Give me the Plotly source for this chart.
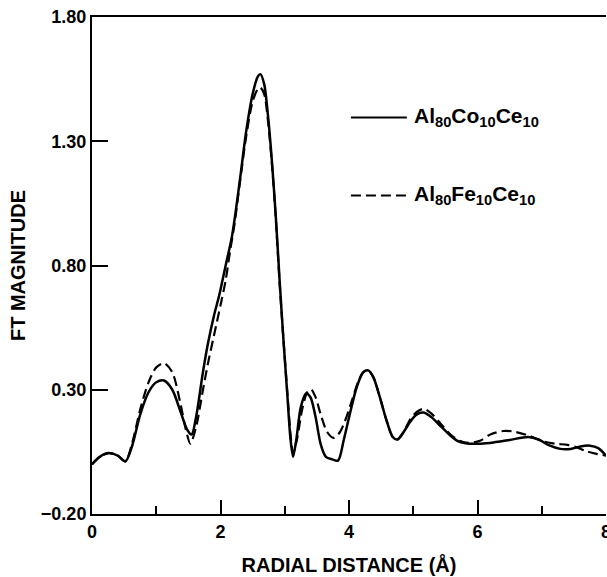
import plotly.graph_objects as go

# Radial distance (Å) and FT magnitude
x_co = [0.00, 0.12, 0.26, 0.40, 0.52, 0.62, 0.75, 0.88, 1.00, 1.12, 1.25, 1.38, 1.48, 1.55,
        1.62, 1.72, 1.80, 1.90, 1.98, 2.08, 2.18, 2.30, 2.40, 2.50, 2.58, 2.62, 2.68, 2.74,
        2.80, 2.86, 2.92, 2.98, 3.04, 3.09, 3.13, 3.18, 3.25, 3.33, 3.40, 3.48, 3.56, 3.64,
        3.74, 3.83, 3.92, 4.02, 4.12, 4.22, 4.30, 4.38, 4.48, 4.58, 4.68, 4.75, 4.85, 4.95,
        5.05, 5.16, 5.28, 5.42, 5.58, 5.72, 5.86, 6.05, 6.25, 6.50, 6.79, 6.95, 7.10, 7.29,
        7.45, 7.60, 7.75, 7.88, 8.00]
y_co = [0.00, 0.03, 0.045, 0.035, 0.012, 0.07, 0.20, 0.29, 0.33, 0.337, 0.30, 0.21, 0.14, 0.12,
        0.19, 0.36, 0.48, 0.60, 0.68, 0.80, 0.92, 1.14, 1.34, 1.49, 1.56, 1.57, 1.53, 1.40,
        1.22, 1.00, 0.74, 0.50, 0.28, 0.10, 0.03, 0.10, 0.23, 0.285, 0.27, 0.19, 0.08, 0.03,
        0.02, 0.015, 0.10, 0.21, 0.31, 0.37, 0.378, 0.35, 0.27, 0.18, 0.11, 0.10, 0.13, 0.17,
        0.20, 0.208, 0.19, 0.155, 0.115, 0.09, 0.083, 0.083, 0.088, 0.098, 0.11, 0.10, 0.078, 0.062,
        0.062, 0.072, 0.075, 0.065, 0.035]

x_fe = [0.00, 0.12, 0.26, 0.40, 0.52, 0.62, 0.75, 0.88, 1.00, 1.12, 1.25, 1.38, 1.46, 1.53,
        1.62, 1.72, 1.80, 1.90, 2.00, 2.08, 2.15, 2.22, 2.30, 2.40, 2.50, 2.58, 2.62, 2.68,
        2.74, 2.80, 2.86, 2.92, 2.98, 3.04, 3.09, 3.13, 3.19, 3.27, 3.35, 3.41, 3.48, 3.56,
        3.66, 3.76, 3.86, 3.96, 4.05, 4.14, 4.22, 4.30, 4.38, 4.48, 4.58, 4.68, 4.75, 4.85,
        4.95, 5.05, 5.16, 5.28, 5.42, 5.58, 5.72, 5.86, 6.04, 6.20, 6.40, 6.56, 6.80, 6.98,
        7.20, 7.40, 7.55, 7.70, 7.85, 8.00]
y_fe = [0.00, 0.03, 0.045, 0.035, 0.012, 0.08, 0.22, 0.33, 0.39, 0.407, 0.37, 0.24, 0.14, 0.083,
        0.15, 0.29, 0.40, 0.52, 0.64, 0.74, 0.86, 0.97, 1.13, 1.32, 1.46, 1.51, 1.516, 1.49,
        1.38, 1.21, 0.99, 0.73, 0.50, 0.29, 0.12, 0.047, 0.10, 0.22, 0.29, 0.302, 0.27, 0.20,
        0.13, 0.106, 0.13, 0.19, 0.26, 0.33, 0.37, 0.378, 0.35, 0.27, 0.18, 0.11, 0.098, 0.13,
        0.18, 0.21, 0.223, 0.205, 0.165, 0.12, 0.095, 0.086, 0.095, 0.12, 0.134, 0.132, 0.115, 0.095,
        0.083, 0.078, 0.068, 0.052, 0.042, 0.035]

y_tickvals = [-0.2, 0.3, 0.8, 1.3, 1.8]
y_ticktext = ["\u22120.20", "0.30", "0.80", "1.30", "1.80"]
x_tickvals = [0, 2, 4, 6, 8]
label_co = "<b>Al<sub>80</sub>Co<sub>10</sub>Ce<sub>10</sub></b>"
label_fe = "<b>Al<sub>80</sub>Fe<sub>10</sub>Ce<sub>10</sub></b>"

FONT = "Liberation Sans"

fig = go.Figure()
fig.add_trace(go.Scatter(x=x_co, y=y_co, mode="lines", line=dict(color="black", width=2.5, shape="spline", smoothing=0.8),
                         showlegend=False))
fig.add_trace(go.Scatter(x=x_fe, y=y_fe, mode="lines", line=dict(color="black", width=2.2, dash="10px,5px", shape="spline", smoothing=0.8),
                         showlegend=False))

# legend built from annotations and line samples
fig.add_shape(type="line", x0=4.03, x1=4.90, y0=1.396, y1=1.396, line=dict(color="black", width=2))
fig.add_shape(type="line", x0=4.03, x1=4.90, y0=1.082, y1=1.082, line=dict(color="black", width=2, dash="10px,5px"))
fig.add_annotation(x=4.98, y=1.396, text=label_co, showarrow=False, xanchor="left", yanchor="middle",
                   font=dict(family=FONT, size=21, color="black"))
fig.add_annotation(x=4.98, y=1.082, text=label_fe, showarrow=False, xanchor="left", yanchor="middle",
                   font=dict(family=FONT, size=21, color="black"))

fig.update_layout(
    width=607, height=577,
    margin=dict(l=92, r=1, t=17, b=63, autoexpand=False),
    paper_bgcolor="white", plot_bgcolor="white",
    font=dict(family=FONT, color="black"),
)
fig.update_xaxes(
    range=[0, 8], showgrid=False, zeroline=False, automargin=False,
    showline=True, linecolor="black", linewidth=2, mirror=True,
    ticks="inside", ticklen=14, tickwidth=1.5, tickcolor="black",
    tickvals=x_tickvals, ticklabeloverflow="allow",
    minor=dict(dtick=1, tick0=0, ticks="inside", ticklen=8, tickwidth=1.5, tickcolor="black"),
    tickfont=dict(family=FONT, size=18, weight="bold", color="black"),
    title=dict(text="<b>RADIAL DISTANCE (Å)</b>", font=dict(family=FONT, size=20, color="black"), standoff=17),
)
fig.update_yaxes(
    range=[-0.2, 1.8], showgrid=False, zeroline=False, automargin=False,
    showline=True, linecolor="black", linewidth=2,
    ticks="inside", ticklen=16, tickwidth=1.5, tickcolor="black",
    tickvals=y_tickvals, ticktext=y_ticktext,
    tickfont=dict(family=FONT, size=18, weight="bold", color="black"),
    title=dict(text="<b>FT MAGNITUDE</b>", font=dict(family=FONT, size=20, color="black"), standoff=10),
)

fig.write_html("out.html")
